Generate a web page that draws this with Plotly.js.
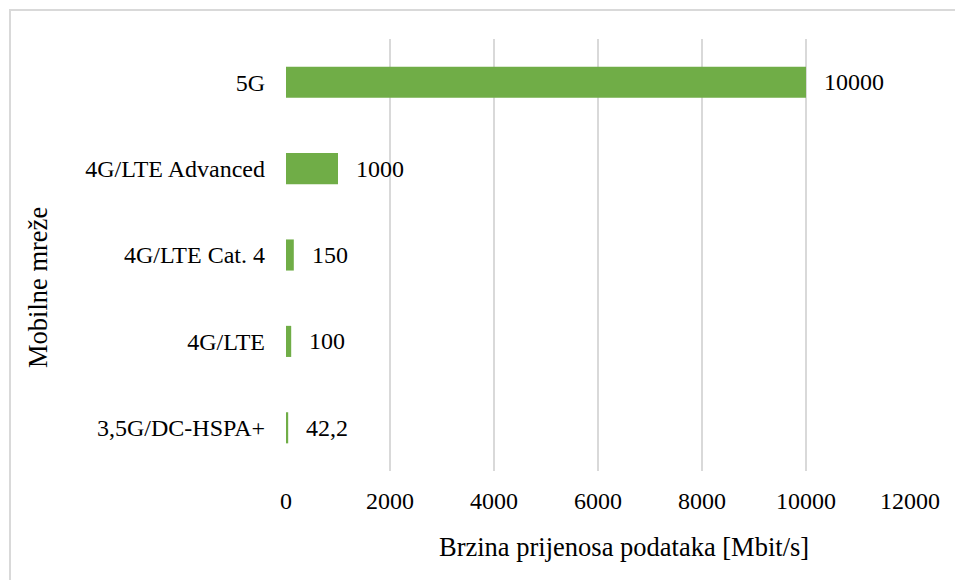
<!DOCTYPE html>
<html>
<head>
<meta charset="utf-8">
<script src="https://cdn.plot.ly/plotly-3.0.1.min.js"></script>
<style>
html,body{margin:0;padding:0;background:#fff;}
#wrap{position:relative;width:955px;height:580px;overflow:hidden;}
#frame{position:absolute;left:9px;top:9px;width:960px;height:590px;border-top:2px solid #d9d9d9;border-left:2px solid #d9d9d9;pointer-events:none;}
#chart{position:absolute;left:0;top:0;width:955px;height:580px;}
</style>
</head>
<body>
<div id="wrap"><div id="chart"></div><div id="frame"></div></div>
<script>
const categories = ['3,5G/DC-HSPA+', '4G/LTE', '4G/LTE Cat. 4', '4G/LTE Advanced', '5G'];
const speeds = [42.2, 100, 150, 1000, 10000];
const speedLabels = ['42,2', '100', '150', '1000', '10000'];
const xTicks = [0, 2000, 4000, 6000, 8000, 10000, 12000];
const xTitle = 'Brzina prijenosa podataka [Mbit/s]';
const yTitle = 'Mobilne mreže';

const FONT = 'Liberation Serif';

const trace = {
  type: 'bar',
  orientation: 'h',
  y: categories,
  x: speeds,
  width: 0.36,
  marker: {color: '#70AD47', line: {width: 0}},
  hoverinfo: 'none'
};

const labelAnns = speeds.map((v, i) => ({
  x: v, y: categories[i], xref: 'x', yref: 'y',
  text: speedLabels[i], showarrow: false,
  xanchor: 'left', yanchor: 'middle', xshift: 16,
  font: {family: FONT, size: 24, color: '#000'}
}));

const layout = {
  width: 955, height: 580,
  margin: {l: 286, r: 45, t: 39, b: 109, pad: 0},
  paper_bgcolor: '#fff', plot_bgcolor: '#fff',
  showlegend: false,
  font: {family: FONT, size: 24, color: '#000'},
  xaxis: {
    range: [0, 12000],
    tickvals: xTicks,
    ticktext: xTicks.map(String),
    showgrid: true, gridcolor: '#d9d9d9', gridwidth: 1.5,
    zeroline: false, showline: false, ticks: '',
    ticklabelstandoff: 13,
    tickfont: {family: FONT, size: 24, color: '#000'},
    fixedrange: true
  },
  yaxis: {
    type: 'category',
    categoryorder: 'array', categoryarray: categories,
    range: [-0.5, 4.5],
    showgrid: false, zeroline: false, showline: false, ticks: '',
    ticklabelstandoff: 20,
    tickfont: {family: FONT, size: 24, color: '#000'},
    fixedrange: true
  },
  annotations: labelAnns.concat([
    {xref: 'paper', yref: 'paper', x: (624 - 286) / 624, y: -(547 - 471) / 432,
     text: xTitle, showarrow: false, xanchor: 'center', yanchor: 'middle',
     font: {family: FONT, size: 26.5, color: '#000'}},
    {xref: 'paper', yref: 'paper', x: -(286 - 38) / 624, y: (471 - 288) / 432,
     text: yTitle, showarrow: false, textangle: -90, xanchor: 'center', yanchor: 'middle',
     font: {family: FONT, size: 26.5, color: '#000'}}
  ])
};

Plotly.newPlot('chart', [trace], layout, {staticPlot: true, displayModeBar: false});
</script>
</body>
</html>
